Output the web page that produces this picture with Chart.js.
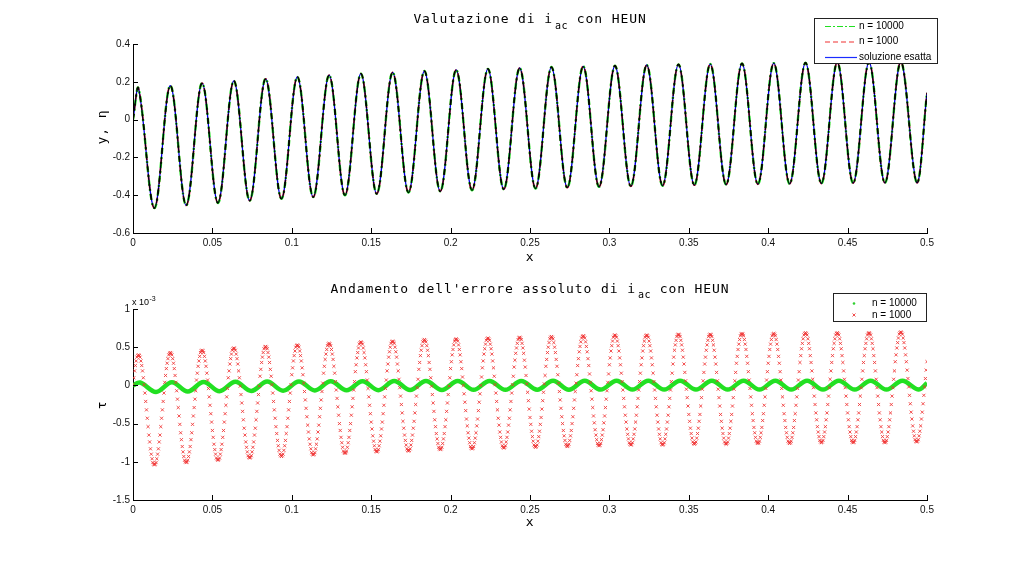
<!DOCTYPE html>
<html>
<head>
<meta charset="utf-8">
<script src="https://cdn.jsdelivr.net/npm/chart.js@4.4.0/dist/chart.umd.min.js"></script>
<style>
  html, body { margin: 0; padding: 0; background: #fff; }
  #wrap { position: relative; width: 1024px; height: 562px; }
  canvas { position: absolute; left: 0; }
  #cTop { top: 0; }
  #cBot { top: 281px; }
</style>
</head>
<body>
<div id="wrap">
  <canvas id="cTop" width="1024" height="281"></canvas>
  <canvas id="cBot" width="1024" height="281"></canvas>
</div>
<script>
// ---- data ----
const xTicks = [0, 0.05, 0.1, 0.15, 0.2, 0.25, 0.3, 0.35, 0.4, 0.45, 0.5];
const yTicksTop = [-0.6, -0.4, -0.2, 0, 0.2, 0.4];
const yTicksErr = [-1.5, -1, -0.5, 0, 0.5, 1];
const labelsTop = ['n = 10000', 'n = 1000', 'soluzione esatta'];
const labelsErr = ['n = 10000', 'n = 1000'];

// top plot: start, peaks/troughs of the current, end
const tTop = [0, 0.0035, 0.0135, 0.0235, 0.0335, 0.0435, 0.0535, 0.0635, 0.0735, 0.0835, 0.0935,
  0.1035, 0.1135, 0.1235, 0.1335, 0.1435, 0.1535, 0.1635, 0.1735, 0.1835, 0.1935,
  0.2035, 0.2135, 0.2235, 0.2335, 0.2435, 0.2535, 0.2635, 0.2735, 0.2835, 0.2935,
  0.3035, 0.3135, 0.3235, 0.3335, 0.3435, 0.3535, 0.3635, 0.3735, 0.3835, 0.3935,
  0.4035, 0.4135, 0.4235, 0.4335, 0.4435, 0.4535, 0.4635, 0.4735, 0.4835, 0.4935, 0.5];
const iTop = [0, 0.165, -0.468, 0.180, -0.454, 0.193, -0.441, 0.205, -0.429, 0.216, -0.419,
  0.226, -0.410, 0.235, -0.401, 0.243, -0.393, 0.250, -0.386, 0.257, -0.380,
  0.263, -0.374, 0.268, -0.369, 0.273, -0.365, 0.278, -0.360, 0.282, -0.356,
  0.285, -0.353, 0.289, -0.350, 0.292, -0.347, 0.294, -0.344, 0.297, -0.342,
  0.299, -0.340, 0.301, -0.338, 0.303, -0.336, 0.304, -0.335, 0.306, -0.333, 0.142];

// bottom plot, n = 10000 (dense band): start, peaks/troughs, end  (x 1e-3)
const tErrFine = [0, 0.0045, 0.0145, 0.0245, 0.0345, 0.0445, 0.0545, 0.0645, 0.0745, 0.0845, 0.0945,
  0.1045, 0.1145, 0.1245, 0.1345, 0.1445, 0.1545, 0.1645, 0.1745, 0.1845, 0.1945,
  0.2045, 0.2145, 0.2245, 0.2345, 0.2445, 0.2545, 0.2645, 0.2745, 0.2845, 0.2945,
  0.3045, 0.3145, 0.3245, 0.3345, 0.3445, 0.3545, 0.3645, 0.3745, 0.3845, 0.3945,
  0.4045, 0.4145, 0.4245, 0.4345, 0.4445, 0.4545, 0.4645, 0.4745, 0.4845, 0.4945, 0.5];
const errFine = [0, 0.038, -0.085, 0.042, -0.080, 0.045, -0.076, 0.048, -0.072, 0.050, -0.069,
  0.052, -0.066, 0.054, -0.064, 0.055, -0.062, 0.056, -0.060, 0.057, -0.059,
  0.058, -0.058, 0.059, -0.057, 0.059, -0.056, 0.060, -0.056, 0.060, -0.055,
  0.061, -0.055, 0.061, -0.055, 0.061, -0.054, 0.062, -0.054, 0.062, -0.054,
  0.062, -0.054, 0.062, -0.054, 0.062, -0.054, 0.062, -0.054, 0.062, -0.054, 0.03];

// bottom plot, n = 1000: one value every 0.0005 from x = 0 to 0.5 (x 1e-3)
const errStep = 0.0005;
const errCoarse = [
  0.01,0.10,0.19,0.26,0.32,0.37,0.39,0.40,0.39,0.37,0.32,0.26,0.19,0.10,0.01,-0.10,-0.21,-0.32,-0.43,-0.54,-0.65,-0.74,-0.83,-0.90,-0.96,-1.01,-1.03,-1.04,-1.03,-1.01,-0.96,-0.90,-0.83,-0.74,-0.65,-0.54,-0.43,-0.32,-0.21,-0.10,
  0.04,0.13,0.22,0.29,0.35,0.40,0.42,0.43,0.42,0.40,0.35,0.29,0.22,0.13,0.04,-0.07,-0.18,-0.29,-0.40,-0.51,-0.62,-0.71,-0.80,-0.87,-0.93,-0.98,-1.00,-1.01,-1.00,-0.98,-0.93,-0.87,-0.80,-0.71,-0.62,-0.51,-0.40,-0.29,-0.18,-0.07,
  0.07,0.16,0.25,0.32,0.38,0.43,0.45,0.46,0.45,0.43,0.38,0.32,0.25,0.16,0.07,-0.04,-0.15,-0.26,-0.37,-0.48,-0.59,-0.68,-0.77,-0.84,-0.90,-0.95,-0.97,-0.98,-0.97,-0.95,-0.90,-0.84,-0.77,-0.68,-0.59,-0.48,-0.37,-0.26,-0.15,-0.04,
  0.10,0.19,0.28,0.35,0.41,0.46,0.48,0.49,0.48,0.46,0.41,0.35,0.28,0.19,0.10,-0.01,-0.12,-0.23,-0.34,-0.45,-0.56,-0.65,-0.74,-0.81,-0.87,-0.92,-0.94,-0.95,-0.94,-0.92,-0.87,-0.81,-0.74,-0.65,-0.56,-0.45,-0.34,-0.23,-0.12,-0.01,
  0.12,0.21,0.30,0.37,0.43,0.48,0.50,0.51,0.50,0.48,0.43,0.37,0.30,0.21,0.12,0.01,-0.10,-0.21,-0.32,-0.43,-0.54,-0.63,-0.72,-0.79,-0.85,-0.90,-0.92,-0.93,-0.92,-0.90,-0.85,-0.79,-0.72,-0.63,-0.54,-0.43,-0.32,-0.21,-0.10,0.01,
  0.14,0.23,0.32,0.39,0.45,0.50,0.52,0.53,0.52,0.50,0.45,0.39,0.32,0.23,0.14,0.03,-0.08,-0.19,-0.30,-0.41,-0.52,-0.61,-0.70,-0.77,-0.83,-0.88,-0.90,-0.91,-0.90,-0.88,-0.83,-0.77,-0.70,-0.61,-0.52,-0.41,-0.30,-0.19,-0.08,0.03,
  0.16,0.25,0.34,0.41,0.47,0.52,0.54,0.55,0.54,0.52,0.47,0.41,0.34,0.25,0.16,0.05,-0.06,-0.17,-0.28,-0.39,-0.50,-0.59,-0.68,-0.75,-0.81,-0.86,-0.88,-0.89,-0.88,-0.86,-0.81,-0.75,-0.68,-0.59,-0.50,-0.39,-0.28,-0.17,-0.06,0.05,
  0.18,0.27,0.36,0.43,0.49,0.54,0.56,0.57,0.56,0.54,0.49,0.43,0.36,0.27,0.18,0.07,-0.04,-0.15,-0.26,-0.37,-0.48,-0.57,-0.66,-0.73,-0.79,-0.84,-0.86,-0.87,-0.86,-0.84,-0.79,-0.73,-0.66,-0.57,-0.48,-0.37,-0.26,-0.15,-0.04,0.07,
  0.19,0.28,0.37,0.44,0.50,0.55,0.57,0.58,0.57,0.55,0.50,0.44,0.37,0.28,0.19,0.08,-0.03,-0.14,-0.25,-0.36,-0.47,-0.56,-0.65,-0.72,-0.78,-0.83,-0.85,-0.86,-0.85,-0.83,-0.78,-0.72,-0.65,-0.56,-0.47,-0.36,-0.25,-0.14,-0.03,0.08,
  0.21,0.30,0.39,0.46,0.52,0.57,0.59,0.60,0.59,0.57,0.52,0.46,0.39,0.30,0.21,0.10,-0.01,-0.12,-0.23,-0.34,-0.45,-0.54,-0.63,-0.70,-0.76,-0.81,-0.83,-0.84,-0.83,-0.81,-0.76,-0.70,-0.63,-0.54,-0.45,-0.34,-0.23,-0.12,-0.01,0.10,
  0.22,0.31,0.40,0.47,0.53,0.58,0.60,0.61,0.60,0.58,0.53,0.47,0.40,0.31,0.22,0.11,0.00,-0.11,-0.22,-0.33,-0.44,-0.53,-0.62,-0.69,-0.75,-0.80,-0.82,-0.83,-0.82,-0.80,-0.75,-0.69,-0.62,-0.53,-0.44,-0.33,-0.22,-0.11,0.00,0.11,
  0.23,0.32,0.41,0.48,0.54,0.59,0.61,0.62,0.61,0.59,0.54,0.48,0.41,0.32,0.23,0.12,0.01,-0.10,-0.21,-0.32,-0.43,-0.52,-0.61,-0.68,-0.74,-0.79,-0.81,-0.82,-0.81,-0.79,-0.74,-0.68,-0.61,-0.52,-0.43,-0.32,-0.21,-0.10,0.01,0.12,
  0.24,0.33,0.42,0.49,0.55,0.60,0.62,0.63,0.62,0.60,0.55,0.49,0.42,0.33,0.24,0.13,0.02,-0.09,-0.20,-0.31,-0.42,-0.51,-0.60,-0.67,-0.73,-0.78,-0.80,-0.81,-0.80,-0.78,-0.73,-0.67,-0.60,-0.51,-0.42,-0.31,-0.20,-0.09,0.02,0.13,
  0.25,0.34,0.43,0.50,0.56,0.61,0.63,0.64,0.63,0.61,0.56,0.50,0.43,0.34,0.25,0.14,0.03,-0.08,-0.19,-0.30,-0.41,-0.50,-0.59,-0.66,-0.72,-0.77,-0.79,-0.80,-0.79,-0.77,-0.72,-0.66,-0.59,-0.50,-0.41,-0.30,-0.19,-0.08,0.03,0.14,
  0.26,0.35,0.44,0.51,0.57,0.62,0.64,0.65,0.64,0.62,0.57,0.51,0.44,0.35,0.26,0.15,0.04,-0.07,-0.18,-0.29,-0.40,-0.49,-0.58,-0.65,-0.71,-0.76,-0.78,-0.79,-0.78,-0.76,-0.71,-0.65,-0.58,-0.49,-0.40,-0.29,-0.18,-0.07,0.04,0.15,
  0.27,0.36,0.45,0.52,0.58,0.63,0.65,0.66,0.65,0.63,0.58,0.52,0.45,0.36,0.27,0.16,0.05,-0.06,-0.17,-0.28,-0.39,-0.48,-0.57,-0.64,-0.70,-0.75,-0.77,-0.78,-0.77,-0.75,-0.70,-0.64,-0.57,-0.48,-0.39,-0.28,-0.17,-0.06,0.05,0.16,
  0.27,0.36,0.45,0.52,0.58,0.63,0.65,0.66,0.65,0.63,0.58,0.52,0.45,0.36,0.27,0.16,0.05,-0.06,-0.17,-0.28,-0.39,-0.48,-0.57,-0.64,-0.70,-0.75,-0.77,-0.78,-0.77,-0.75,-0.70,-0.64,-0.57,-0.48,-0.39,-0.28,-0.17,-0.06,0.05,0.16,
  0.28,0.37,0.46,0.53,0.59,0.64,0.66,0.67,0.66,0.64,0.59,0.53,0.46,0.37,0.28,0.17,0.06,-0.05,-0.16,-0.27,-0.38,-0.47,-0.56,-0.63,-0.69,-0.74,-0.76,-0.77,-0.76,-0.74,-0.69,-0.63,-0.56,-0.47,-0.38,-0.27,-0.16,-0.05,0.06,0.17,
  0.28,0.37,0.46,0.53,0.59,0.64,0.66,0.67,0.66,0.64,0.59,0.53,0.46,0.37,0.28,0.17,0.06,-0.05,-0.16,-0.27,-0.38,-0.47,-0.56,-0.63,-0.69,-0.74,-0.76,-0.77,-0.76,-0.74,-0.69,-0.63,-0.56,-0.47,-0.38,-0.27,-0.16,-0.05,0.06,0.17,
  0.29,0.38,0.47,0.54,0.60,0.65,0.67,0.68,0.67,0.65,0.60,0.54,0.47,0.38,0.29,0.18,0.07,-0.04,-0.15,-0.26,-0.37,-0.46,-0.55,-0.62,-0.68,-0.73,-0.75,-0.76,-0.75,-0.73,-0.68,-0.62,-0.55,-0.46,-0.37,-0.26,-0.15,-0.04,0.07,0.18,
  0.29,0.38,0.47,0.54,0.60,0.65,0.67,0.68,0.67,0.65,0.60,0.54,0.47,0.38,0.29,0.18,0.07,-0.04,-0.15,-0.26,-0.37,-0.46,-0.55,-0.62,-0.68,-0.73,-0.75,-0.76,-0.75,-0.73,-0.68,-0.62,-0.55,-0.46,-0.37,-0.26,-0.15,-0.04,0.07,0.18,
  0.30,0.39,0.48,0.55,0.61,0.66,0.68,0.69,0.68,0.66,0.61,0.55,0.48,0.39,0.30,0.19,0.08,-0.03,-0.14,-0.25,-0.36,-0.45,-0.54,-0.61,-0.67,-0.72,-0.74,-0.75,-0.74,-0.72,-0.67,-0.61,-0.54,-0.45,-0.36,-0.25,-0.14,-0.03,0.08,0.19,
  0.30,0.39,0.48,0.55,0.61,0.66,0.68,0.69,0.68,0.66,0.61,0.55,0.48,0.39,0.30,0.19,0.08,-0.03,-0.14,-0.25,-0.36,-0.45,-0.54,-0.61,-0.67,-0.72,-0.74,-0.75,-0.74,-0.72,-0.67,-0.61,-0.54,-0.45,-0.36,-0.25,-0.14,-0.03,0.08,0.19,
  0.30,0.39,0.48,0.55,0.61,0.66,0.68,0.69,0.68,0.66,0.61,0.55,0.48,0.39,0.30,0.19,0.08,-0.03,-0.14,-0.25,-0.36,-0.45,-0.54,-0.61,-0.67,-0.72,-0.74,-0.75,-0.74,-0.72,-0.67,-0.61,-0.54,-0.45,-0.36,-0.25,-0.14,-0.03,0.08,0.19,
  0.31,0.40,0.49,0.56,0.62,0.67,0.69,0.70,0.69,0.67,0.62,0.56,0.49,0.40,0.31,0.20,0.09,-0.02,-0.13,-0.24,-0.35,-0.44,-0.53,-0.60,-0.66,-0.71,-0.73,-0.74,-0.73,-0.71,-0.66,-0.60,-0.53,-0.44,-0.35,-0.24,-0.13,-0.02,0.09,0.20,
  0.31
];

// ---- helpers ----
Chart.defaults.font.family = '"Liberation Sans", Arial, Helvetica, sans-serif';
Chart.defaults.font.size = 10;
Chart.defaults.color = '#111';

const MONO = '"DejaVu Sans Mono", "Liberation Mono", monospace';
const pts = (xs, ys) => ys.map((y, i) => ({ x: xs[i], y: y }));

function scaleX(h) {
  return {
    type: 'linear', min: 0, max: 0.5,
    afterBuildTicks: s => { s.ticks = xTicks.map(v => ({ value: v })); },
    afterFit: s => { s.height = h; },
    grid: { display: false, drawTicks: false },
    border: { display: true, color: '#000', width: 1 },
    ticks: { padding: 4, maxRotation: 0, autoSkip: false, color: '#111', callback: v => String(v) }
  };
}
function scaleY(vals) {
  return {
    type: 'linear', min: vals[0], max: vals[vals.length - 1],
    afterBuildTicks: s => { s.ticks = vals.map(v => ({ value: v })); },
    afterFit: s => { s.width = 133; },
    grid: { display: false, drawTicks: false },
    border: { display: true, color: '#000', width: 1 },
    ticks: { padding: 3, autoSkip: false, color: '#111', callback: v => String(v) }
  };
}

// matlab-like ticks pointing in, title with subscript, axis labels
const matlabText = {
  id: 'matlabText',
  afterDraw(chart, args, o) {
    const ctx = chart.ctx, a = chart.chartArea;
    const sx = chart.scales.x, sy = chart.scales.y;
    ctx.save();
    ctx.strokeStyle = '#000';
    ctx.lineWidth = 1;
    ctx.beginPath();
    sx.ticks.forEach(t => {
      const px = Math.round(sx.getPixelForValue(t.value)) + 0.5;
      ctx.moveTo(px, a.bottom); ctx.lineTo(px, a.bottom - 5);
    });
    sy.ticks.forEach(t => {
      const py = Math.round(sy.getPixelForValue(t.value)) + 0.5;
      ctx.moveTo(a.left, py); ctx.lineTo(a.left + 5, py);
    });
    ctx.stroke();

    ctx.fillStyle = '#000';
    ctx.textBaseline = 'alphabetic';
    ctx.textAlign = 'left';
    // title
    ctx.letterSpacing = '0.9px';
    ctx.font = '13px ' + MONO;
    const w1 = ctx.measureText(o.title[0]).width;
    const w3 = ctx.measureText(o.title[2]).width;
    ctx.letterSpacing = '0.5px';
    ctx.font = '10px ' + MONO;
    const w2 = ctx.measureText(o.title[1]).width;
    const gap = 2;
    let x0 = o.titleX - (w1 + gap + w2 + w3) / 2;
    ctx.letterSpacing = '0.9px';
    ctx.font = '13px ' + MONO;
    ctx.fillText(o.title[0], x0, o.titleY);
    ctx.fillText(o.title[2], x0 + w1 + gap + w2, o.titleY);
    ctx.letterSpacing = '0.5px';
    ctx.font = '10px ' + MONO;
    ctx.fillText(o.title[1], x0 + w1 + gap, o.titleY + 5.5);

    // x label
    ctx.letterSpacing = '0.9px';
    ctx.font = '13px ' + MONO;
    ctx.textAlign = 'center';
    ctx.textBaseline = 'middle';
    ctx.fillText('x', o.titleX, o.xlabelY);

    // y label, rotated
    ctx.save();
    ctx.translate(103, o.ylabelY);
    ctx.rotate(-Math.PI / 2);
    ctx.fillText(o.ylabel, 0, 0);
    ctx.restore();

    // exponent
    if (o.expo) {
      ctx.letterSpacing = '0px';
      ctx.textAlign = 'left';
      ctx.textBaseline = 'alphabetic';
      ctx.font = '9px "Liberation Sans", Arial, sans-serif';
      ctx.fillText('x 10', 132, o.expo);
      const we = ctx.measureText('x 10').width;
      ctx.font = '7px "Liberation Sans", Arial, sans-serif';
      ctx.fillText('-3', 132 + we + 0.5, o.expo - 4);
    }
    ctx.restore();
  }
};

// boxed legend drawn over the data, like the matlab one
const boxLegend = {
  id: 'boxLegend',
  afterDraw(chart, args, o) {
    const ctx = chart.ctx;
    ctx.save();
    ctx.globalCompositeOperation = 'source-over';
    ctx.fillStyle = '#fff';
    ctx.fillRect(o.x, o.y, o.w, o.h);
    ctx.strokeStyle = '#222';
    ctx.lineWidth = 1;
    ctx.strokeRect(o.x + 0.5, o.y + 0.5, o.w, o.h);
    ctx.font = '10px "Liberation Sans", Arial, sans-serif';
    ctx.textBaseline = 'middle';
    ctx.textAlign = 'left';
    chart.data.datasets.forEach((ds, i) => {
      const ry = o.rows[i];
      ctx.strokeStyle = ds.keyColor;
      ctx.fillStyle = ds.keyColor;
      if (ds.key === 'line') {
        ctx.setLineDash(ds.keyDash || []);
        ctx.lineWidth = 1.2;
        ctx.beginPath();
        ctx.moveTo(o.keyX[0], ry + 0.5); ctx.lineTo(o.keyX[1], ry + 0.5);
        ctx.stroke();
        ctx.setLineDash([]);
      } else if (ds.key === 'dot') {
        ctx.beginPath();
        ctx.arc(o.keyX[0], ry, 1.3, 0, Math.PI * 2);
        ctx.fill();
      } else {
        ctx.lineWidth = 1;
        ctx.beginPath();
        ctx.moveTo(o.keyX[0] - 1.5, ry - 1.5); ctx.lineTo(o.keyX[0] + 1.5, ry + 1.5);
        ctx.moveTo(o.keyX[0] + 1.5, ry - 1.5); ctx.lineTo(o.keyX[0] - 1.5, ry + 1.5);
        ctx.stroke();
      }
      ctx.fillStyle = '#000';
      ctx.fillText(ds.label, o.textX, ry);
    });
    ctx.restore();
  }
};

// overlapping curves darken each other
const blendLines = {
  id: 'blendLines',
  beforeDatasetsDraw(chart) { chart.ctx.save(); chart.ctx.globalCompositeOperation = 'multiply'; },
  afterDatasetsDraw(chart) { chart.ctx.restore(); }
};

const common = { responsive: false, animation: false, events: [] };

new Chart(document.getElementById('cTop'), {
  type: 'line',
  data: {
    datasets: [
      { label: labelsTop[0], data: pts(tTop, iTop), borderColor: '#10e010', keyColor: '#20e020', key: 'line',
        keyDash: [6, 2, 2, 2], borderWidth: 2.4, borderDash: [6, 3, 2, 3], pointRadius: 0, tension: 0.36 },
      { label: labelsTop[1], data: pts(tTop, iTop), borderColor: '#ee2020', keyColor: '#f03030', key: 'line',
        keyDash: [5, 3], borderWidth: 1.8, borderDash: [6, 4], pointRadius: 0, tension: 0.36 },
      { label: labelsTop[2], data: pts(tTop, iTop), borderColor: '#0000e0', keyColor: '#1a2cff', key: 'line',
        borderWidth: 1.3, pointRadius: 0, tension: 0.36 }
    ]
  },
  options: Object.assign({}, common, {
    layout: { padding: { left: 0, right: 97, top: 44, bottom: 0 } },
    scales: { x: scaleX(48), y: scaleY(yTicksTop) },
    plugins: {
      legend: { display: false }, tooltip: { enabled: false },
      matlabText: { title: ['Valutazione di i', 'ac', ' con HEUN'], titleX: 530, titleY: 23,
        xlabelY: 258, ylabel: 'y, \u03b7', ylabelY: 127 },
      boxLegend: { x: 814, y: 18, w: 123, h: 45, rows: [26, 41.5, 57], keyX: [825, 857], textX: 859 }
    }
  }),
  plugins: [blendLines, matlabText, boxLegend]
});

new Chart(document.getElementById('cBot'), {
  type: 'line',
  data: {
    datasets: [
      { label: labelsErr[0], data: pts(tErrFine, errFine), borderColor: '#22e022', keyColor: '#30d030', key: 'dot',
        borderWidth: 4.5, pointRadius: 0, tension: 0.36, order: 1 },
      { label: labelsErr[1], data: errCoarse.map((v, i) => ({ x: i * errStep, y: v })), showLine: false,
        pointStyle: 'crossRot', pointRadius: 2.2, pointBorderWidth: 1,
        pointBorderColor: 'rgba(240,50,50,0.85)', pointBackgroundColor: 'rgba(240,50,50,0.85)',
        keyColor: 'rgba(238,60,60,0.9)', key: 'cross', order: 0 }
    ]
  },
  options: Object.assign({}, common, {
    layout: { padding: { left: 0, right: 97, top: 28, bottom: 0 } },
    scales: { x: scaleX(62), y: scaleY(yTicksErr) },
    plugins: {
      legend: { display: false }, tooltip: { enabled: false },
      matlabText: { title: ["Andamento dell'errore assoluto di i", 'ac', ' con HEUN'], titleX: 530, titleY: 11.7,
        xlabelY: 242, ylabel: '\u03c4', ylabelY: 124, expo: 23.5 },
      boxLegend: { x: 833, y: 12, w: 93, h: 28, rows: [22.5, 34], keyX: [854, 854], textX: 872 }
    }
  }),
  plugins: [matlabText, boxLegend]
});
</script>
</body>
</html>
